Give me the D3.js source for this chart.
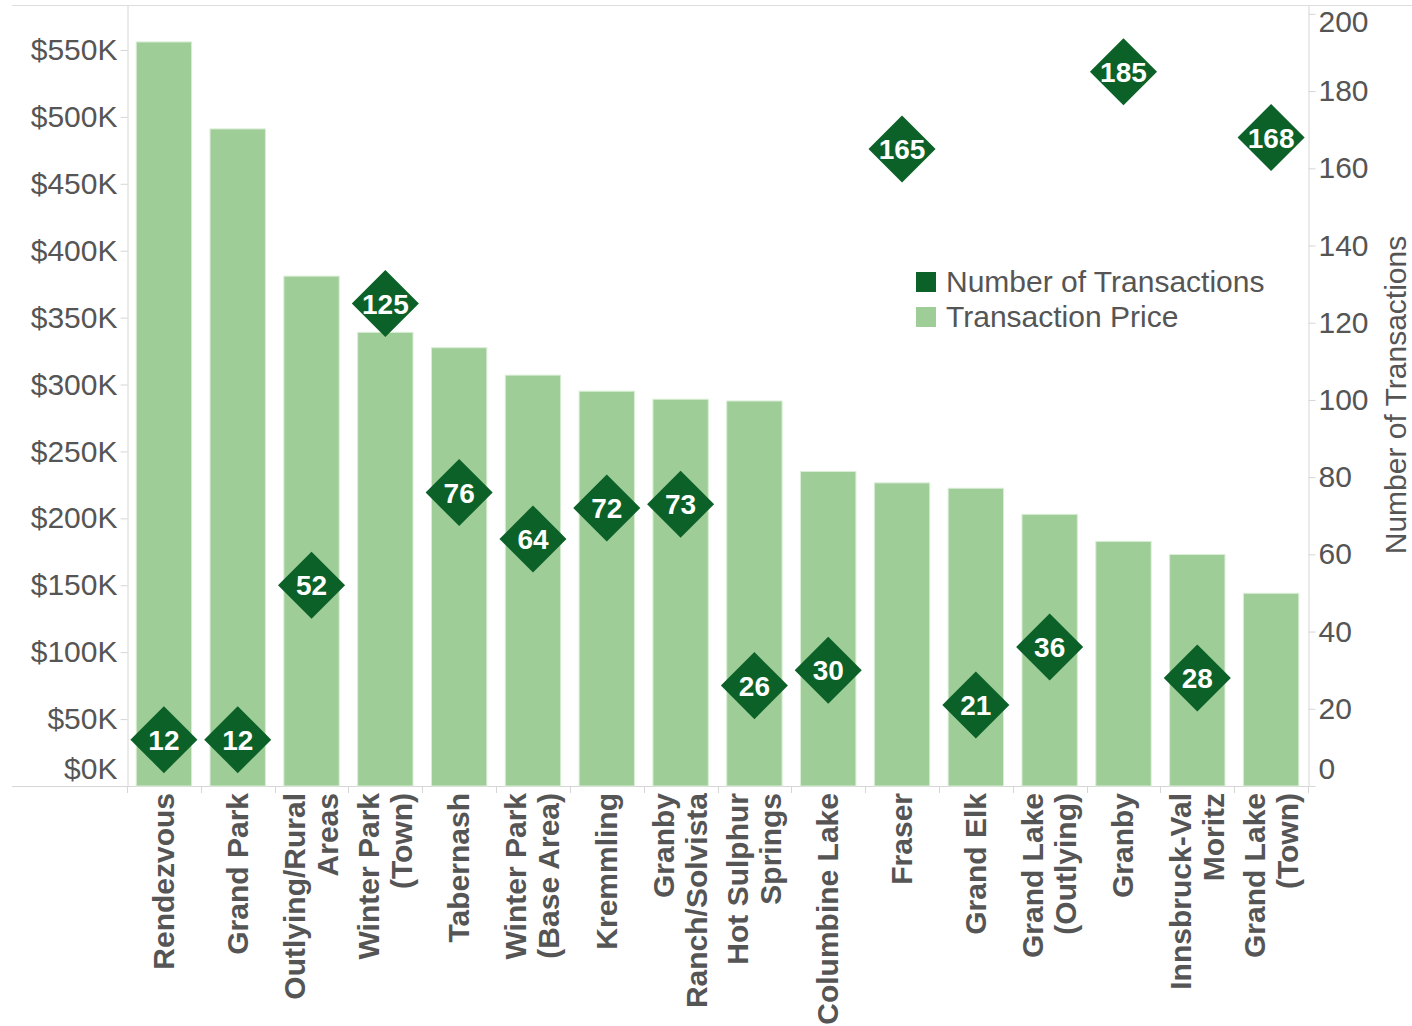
<!DOCTYPE html>
<html>
<head>
<meta charset="utf-8">
<script src="https://cdn.jsdelivr.net/npm/d3@7"></script>
<style>
  body { margin: 0; background: #fff; }
  svg { display: block; font-family: "Liberation Sans", Arial, sans-serif; }
  .axis text { fill: #555; font-size: 30px; }
  .axis line, .axis path { stroke: #d6d6d6; }
</style>
</head>
<body>
<svg width="1412" height="1026"></svg>
<script>
// categories (each label split into its display lines)
var categories = ["Rendezvous", "Grand Park", "Outlying/Rural Areas", "Winter Park (Town)",
  "Tabernash", "Winter Park (Base Area)", "Kremmling", "Granby Ranch/Solvista",
  "Hot Sulphur Springs", "Columbine Lake", "Fraser", "Grand Elk",
  "Grand Lake (Outlying)", "Granby", "Innsbruck-Val Moritz", "Grand Lake (Town)"];
var labelLines = [["Rendezvous"], ["Grand Park"], ["Outlying/Rural", "Areas"], ["Winter Park", "(Town)"],
  ["Tabernash"], ["Winter Park", "(Base Area)"], ["Kremmling"], ["Granby", "Ranch/Solvista"],
  ["Hot Sulphur", "Springs"], ["Columbine Lake"], ["Fraser"], ["Grand Elk"],
  ["Grand Lake", "(Outlying)"], ["Granby"], ["Innsbruck-Val", "Moritz"], ["Grand Lake", "(Town)"]];
// transaction price ($)
var prices = [556000, 491000, 381000, 339000, 327500, 307000, 295000, 289000,
  287700, 235000, 226500, 222500, 203000, 182800, 173000, 144000];
// number of transactions
var counts = [12, 12, 52, 125, 76, 64, 72, 73, 26, 30, 165, 21, 36, 185, 28, 168];
// axis ticks
var priceTicks = [0, 50000, 100000, 150000, 200000, 250000, 300000, 350000, 400000, 450000, 500000, 550000];
var countTicks = [0, 20, 40, 60, 80, 100, 120, 140, 160, 180, 200];

var svg = d3.select("svg");
var padL = 127, padR = 1308, padT = 5, padB = 786;
var barColor = "#9fcd98", markColor = "#0b6127";

var x = d3.scaleBand()
  .domain(categories)
  .range([padL, padR])
  .paddingInner(0.25)
  .paddingOuter(0.125);
var yPrice = d3.scaleLinear().domain([0, 583600]).range([padB, padT]);
var yCount = d3.scaleLinear().domain([0, 202.3]).range([padB, padT]);

// frame lines
svg.append("line").attr("x1", 12).attr("x2", 1412).attr("y1", padT + 0.5).attr("y2", padT + 0.5)
  .attr("stroke", "#dedede");
svg.append("line").attr("x1", 12).attr("x2", padR).attr("y1", padB + 0.5).attr("y2", padB + 0.5)
  .attr("stroke", "#d6d6d6");

// bars
svg.append("g").selectAll("rect")
  .data(categories)
  .enter().append("rect")
    .attr("x", function(d) { return x(d); })
    .attr("width", x.bandwidth())
    .attr("y", function(d, i) { return yPrice(prices[i]); })
    .attr("height", function(d, i) { return yPrice(0) - yPrice(prices[i]); })
    .attr("fill", barColor)
    .attr("stroke", "#d9eed5")
    .attr("stroke-width", 1);

// left axis
var gl = svg.append("g").attr("class", "axis")
  .attr("transform", "translate(" + (padL + 0.5) + ",0)")
  .call(d3.axisLeft(yPrice).tickValues(priceTicks)
    .tickFormat(function(d) { return "$" + d / 1000 + "K"; })
    .tickSize(7).tickSizeOuter(0).tickPadding(3));
gl.selectAll(".tick text").filter(function(d) { return d === 0; }).attr("y", -17);

// right axis
var gr = svg.append("g").attr("class", "axis")
  .attr("transform", "translate(" + (padR + 0.5) + ",0)")
  .call(d3.axisRight(yCount).tickValues(countTicks)
    .tickSize(7).tickSizeOuter(0).tickPadding(3));
gr.selectAll(".tick text").filter(function(d) { return d === 0; }).attr("y", -17);
gr.selectAll(".tick text").filter(function(d) { return d === 200; }).attr("y", 8);

svg.append("text")
  .attr("transform", "translate(1406,395) rotate(-90)")
  .attr("text-anchor", "middle")
  .attr("fill", "#555")
  .style("font-size", "30px")
  .text("Number of Transactions");

// category ticks at band boundaries
var step = x.step();
var bounds = categories.map(function(d) { return x(d) - step * 0.125; }).concat([padR]);
svg.append("g").selectAll("line")
  .data(bounds)
  .enter().append("line")
    .attr("x1", function(d) { return Math.round(d) + 0.5; })
    .attr("x2", function(d) { return Math.round(d) + 0.5; })
    .attr("y1", padB)
    .attr("y2", padB + 7)
    .attr("stroke", "#d6d6d6");

// category labels, rotated
var lineGap = 33;
svg.append("g").selectAll("text")
  .data(categories)
  .enter().append("text")
    .attr("transform", function(d, i) {
      var cx = x(d) + x.bandwidth() / 2;
      var n = labelLines[i].length;
      var bx = cx - (n - 1) * lineGap / 2 + 10;
      return "translate(" + bx + ",793) rotate(-90)";
    })
    .attr("text-anchor", "end")
    .attr("fill", "#555")
    .style("font-size", "30px")
    .style("font-weight", "bold")
    .each(function(d, i) {
      var t = d3.select(this);
      labelLines[i].forEach(function(line, k) {
        t.append("tspan").attr("x", 0).attr("y", k * lineGap).text(line);
      });
    });

// diamonds
var diamond = d3.symbol().type(d3.symbolSquare).size(2245);
var marks = svg.append("g").selectAll("g")
  .data(categories)
  .enter().append("g")
    .attr("transform", function(d, i) {
      return "translate(" + (x(d) + x.bandwidth() / 2) + "," + yCount(counts[i]) + ")";
    });
marks.append("path")
  .attr("d", diamond)
  .attr("transform", "rotate(45)")
  .attr("fill", markColor);
marks.append("text")
  .attr("text-anchor", "middle")
  .attr("dy", "0.36em")
  .attr("fill", "#fff")
  .style("font-size", "28px")
  .style("font-weight", "bold")
  .text(function(d, i) { return counts[i]; });

// legend
var legendItems = [["Number of Transactions", markColor], ["Transaction Price", barColor]];
var legend = svg.append("g").selectAll("g")
  .data(legendItems)
  .enter().append("g")
    .attr("transform", function(d, i) { return "translate(916," + (272 + i * 35) + ")"; });
legend.append("rect").attr("width", 20).attr("height", 20)
  .attr("fill", function(d) { return d[1]; });
legend.append("text").attr("x", 30).attr("y", 20)
  .attr("fill", "#555")
  .style("font-size", "30px")
  .text(function(d) { return d[0]; });
</script>
</body>
</html>
